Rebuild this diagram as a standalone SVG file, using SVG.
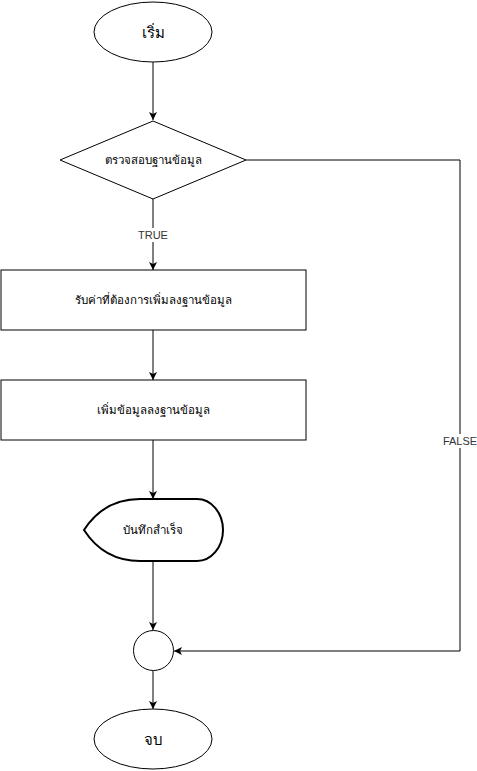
<svg xmlns="http://www.w3.org/2000/svg" width="477" height="771" viewBox="0 0 477 771">
  <style>
    .shape { fill: #ffffff; stroke: #000000; stroke-width: 1; }
    .bold { stroke-width: 2; }
    .edge { fill: none; stroke: #000000; stroke-width: 1; }
    .label { font-family: "Liberation Sans", "DejaVu Sans", sans-serif; font-size: 11.5px; font-weight: normal; fill: #000000; text-anchor: middle; dominant-baseline: central; }
    .big { font-size: 15px; }
    .edge-label { font-family: "Liberation Sans", "DejaVu Sans", sans-serif; font-size: 11px; fill: #333333; text-anchor: middle; dominant-baseline: central; }
  </style>
  <defs>
    <marker id="arrow" viewBox="0 0 8 8" refX="8" refY="4" markerWidth="8" markerHeight="8" markerUnits="userSpaceOnUse" orient="auto">
      <path d="M 0 0 L 8 4 L 0 8 L 2 4 Z" fill="#000000"/>
    </marker>
  </defs>

  <rect width="477" height="771" fill="#ffffff"/>

  <g id="connectors">
    <path class="edge" d="M 153 62 L 153 120" marker-end="url(#arrow)"/>
    <path class="edge" d="M 153 199 L 153 270" marker-end="url(#arrow)"/>
    <path class="edge" d="M 153 330 L 153 380" marker-end="url(#arrow)"/>
    <path class="edge" d="M 153 440 L 153 499" marker-end="url(#arrow)"/>
    <path class="edge" d="M 153 561 L 153 630" marker-end="url(#arrow)"/>
    <path class="edge" d="M 153 671 L 153 709" marker-end="url(#arrow)"/>
    <path class="edge" d="M 246 160 L 460 160 L 460 651 L 174 651" marker-end="url(#arrow)"/>
    <g id="label-true">
      <rect x="136" y="228" width="34" height="14" fill="#ffffff"/>
      <text class="edge-label" x="153" y="235">TRUE</text>
    </g>
    <g id="label-false">
      <rect x="440" y="434" width="40" height="14" fill="#ffffff"/>
      <text class="edge-label" x="460" y="441">FALSE</text>
    </g>
  </g>

  <g id="start">
    <ellipse class="shape" cx="153" cy="32" rx="59" ry="30"/>
    <text class="label big" x="153" y="32">เริ่ม</text>
  </g>

  <g id="check-db">
    <path class="shape" d="M 153 121 L 246 160 L 153 199 L 60 160 Z"/>
    <text class="label" x="153" y="160">ตรวจสอบฐานข้อมูล</text>
  </g>

  <g id="input-values">
    <rect class="shape" x="1" y="270" width="305" height="60"/>
    <text class="label" x="153.5" y="300">รับค่าที่ต้องการเพิ่มลงฐานข้อมูล</text>
  </g>

  <g id="insert-data">
    <rect class="shape" x="1" y="380" width="305" height="60"/>
    <text class="label" x="153.5" y="410">เพิ่มข้อมูลลงฐานข้อมูล</text>
  </g>

  <g id="saved">
    <path class="shape bold" d="M 84 530 Q 104 499 140 499 L 197 499 A 26 31 0 0 1 223 530 A 26 31 0 0 1 197 561 L 140 561 Q 104 561 84 530 Z"/>
    <text class="label" x="153" y="530">บันทึกสำเร็จ</text>
  </g>

  <g id="merge">
    <circle class="shape" cx="153.5" cy="650.5" r="20"/>
  </g>

  <g id="end">
    <ellipse class="shape" cx="153" cy="739" rx="59" ry="30"/>
    <text class="label big" x="153" y="739">จบ</text>
  </g>
</svg>
